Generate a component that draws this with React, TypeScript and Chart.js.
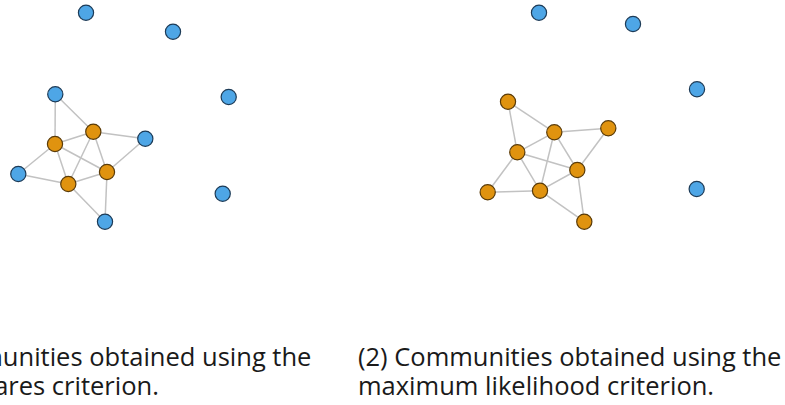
import React, { useEffect, useRef } from "react";
import { Chart, registerables } from "chart.js";

Chart.register(...registerables);

// Panel 1: least squares communities (layout coordinates, y measured downward)
const leftNodeX = [86, 173, 55.3, 228.7, 93.3, 55, 145.3, 18.3, 68.3, 107, 222.7, 105];
const leftNodeY = [12.7, 31.7, 94.3, 97, 131.7, 144, 138.7, 174, 184, 172, 193.7, 221.7];
const leftCommunity = [0, 0, 0, 0, 1, 1, 0, 0, 1, 1, 0, 0];
const leftEdges: [number, number][] = [
  [2, 5], [2, 4], [4, 5], [4, 6], [4, 8], [4, 9], [5, 7], [5, 8], [5, 9],
  [7, 8], [8, 9], [8, 11], [9, 6], [9, 11],
];

// Panel 2: maximum likelihood communities
const rightNodeX = [79, 173, 237, 48, 94.3, 148.3, 57.3, 117.3, 27.7, 80, 236.7, 124.3];
const rightNodeY = [12.7, 24, 89.3, 101.7, 132.3, 128.3, 152.3, 170, 192.3, 190.7, 189, 221.7];
const rightCommunity = [0, 0, 0, 1, 1, 1, 1, 1, 1, 1, 0, 1];
const rightEdges: [number, number][] = [
  [3, 4], [3, 6], [4, 5], [4, 6], [4, 7], [4, 9], [5, 7], [6, 7], [6, 8],
  [6, 9], [8, 9], [9, 7], [9, 11], [7, 11],
];

const captionLeft = ["(1) Communities obtained using the", "least squares criterion."];
const captionRight = ["(2) Communities obtained using the", "maximum likelihood criterion."];

const FILL = ["#4ea6e6", "#e0930f"];
const STROKE = ["#1d3b57", "#5a3b08"];
const PANEL_W = 300;
const PANEL_H = 260;

function NetworkPanel(props: {
  xs: number[];
  ys: number[];
  community: number[];
  edges: [number, number][];
  left: number;
}) {
  const ref = useRef<HTMLCanvasElement | null>(null);
  useEffect(() => {
    if (!ref.current) return;
    const { xs, ys, community, edges } = props;
    const edgeSets = edges.map(([a, b]) => ({
      type: "line" as const,
      data: [
        { x: xs[a], y: ys[a] },
        { x: xs[b], y: ys[b] },
      ],
      borderColor: "#c2c2c2",
      borderWidth: 1.5,
      pointRadius: 0,
      showLine: true,
      fill: false,
      clip: false as any,
      order: 2,
    }));
    const nodeSet = {
      type: "scatter" as const,
      data: xs.map((x, i) => ({ x, y: ys[i] })),
      pointRadius: 7.6,
      pointHoverRadius: 7.6,
      backgroundColor: community.map((c) => FILL[c]),
      borderColor: community.map((c) => STROKE[c]),
      borderWidth: 1.2,
      clip: false as any,
      order: 1,
    };
    const chart = new Chart(ref.current, {
      type: "scatter",
      data: { datasets: [...edgeSets, nodeSet] as any },
      options: {
        animation: false,
        responsive: false,
        events: [],
        layout: { padding: 0, autoPadding: false } as any,
        plugins: { legend: { display: false }, tooltip: { enabled: false } },
        scales: {
          x: { type: "linear", min: 0, max: PANEL_W, display: false },
          y: { type: "linear", min: 0, max: PANEL_H, reverse: true, display: false },
        },
      },
    });
    return () => chart.destroy();
  }, []);
  return (
    <canvas
      ref={ref}
      width={PANEL_W}
      height={PANEL_H}
      style={{ position: "absolute", left: props.left, top: 0, width: PANEL_W, height: PANEL_H }}
    />
  );
}

const captionStyle: React.CSSProperties = {
  position: "absolute",
  top: 342,
  fontFamily: "'Open Sans', sans-serif",
  fontSize: 25.5,
  lineHeight: "28.5px",
  color: "#1a1a1a",
  whiteSpace: "nowrap",
};

export default function App() {
  return (
    <div
      style={{
        position: "fixed",
        left: 0,
        top: 0,
        width: 785,
        height: 405,
        overflow: "hidden",
        background: "#ffffff",
      }}
    >
      <NetworkPanel xs={leftNodeX} ys={leftNodeY} community={leftCommunity} edges={leftEdges} left={0} />
      <NetworkPanel xs={rightNodeX} ys={rightNodeY} community={rightCommunity} edges={rightEdges} left={460} />
      <div style={{ ...captionStyle, left: -112 }}>
        {captionLeft[0]}
        <br />
        {captionLeft[1]}
      </div>
      <div style={{ ...captionStyle, left: 358 }}>
        {captionRight[0]}
        <br />
        {captionRight[1]}
      </div>
    </div>
  );
}
